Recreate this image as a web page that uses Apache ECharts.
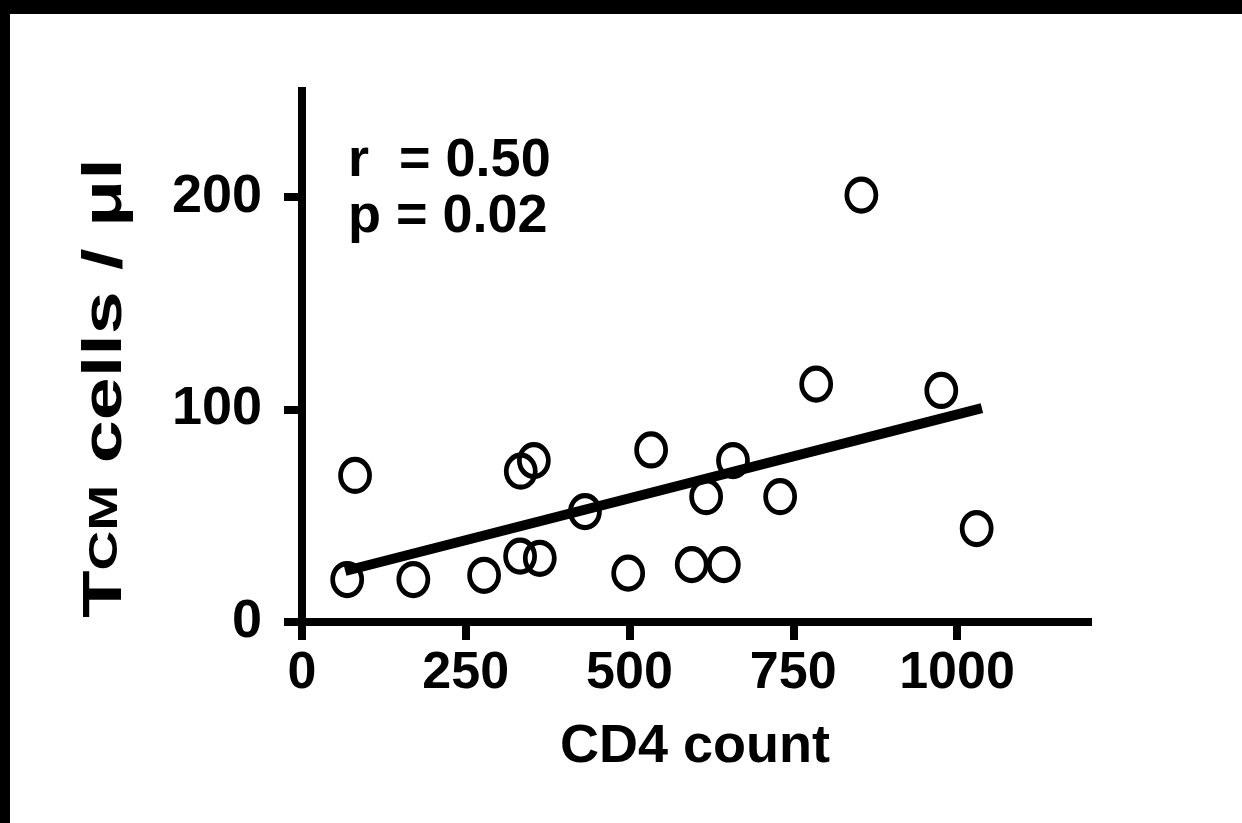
<!DOCTYPE html>
<html>
<head>
<meta charset="utf-8">
<script src="https://cdn.jsdelivr.net/npm/echarts@6/dist/echarts.min.js"></script>
<style>
  html, body { margin: 0; padding: 0; background: #fff; width: 1242px; height: 823px; overflow: hidden; }
  #topbar { position: absolute; left: 0; top: 0; width: 1242px; height: 14px; background: #000; }
  #leftbar { position: absolute; left: 0; top: 0; width: 10px; height: 823px; background: #000; }
  #chart { position: absolute; left: 10px; top: 14px; width: 1232px; height: 809px; background: #fff; }
</style>
</head>
<body>
<div id="chart"></div>
<div id="topbar"></div>
<div id="leftbar"></div>
<script>
// CD4 count vs TCM cells / ul
var cd4 = [69, 81, 170, 278, 334, 354, 333, 363, 432, 498, 533, 595, 617, 644, 658, 730, 785, 854, 976, 1030];
var tcm = [20, 69, 20, 22, 71, 76, 31, 30, 52, 23, 81, 27, 59, 27, 76, 59, 112, 201, 109, 44];
var fitX = [66, 1038];
var fitY = [24, 100.7];
var xTicks = [0, 250, 500, 750, 1000];
var yTicks = [0, 100, 200];
var statLines = ['r  = 0.50', 'p = 0.02'];

var FONT = '"Liberation Sans", Arial, Helvetica, sans-serif';

function initChart() {
    var chart = echarts.init(document.getElementById('chart'));
    var points = cd4.map(function (x, i) { return [x, tcm[i]]; });
    var fit = fitX.map(function (x, i) { return [x, fitY[i]]; });

    var option = {
        animation: false,
        grid: { left: 292, top: 77, width: 786, height: 531 },
        xAxis: {
            type: 'value',
            min: 0,
            max: 1200,
            name: 'CD4 count',
            nameLocation: 'middle',
            nameGap: 98,
            nameTextStyle: { color: '#000', fontFamily: FONT, fontWeight: 'bold', fontSize: 54 },
            axisLine: { lineStyle: { color: '#000', width: 8, cap: 'square' } },
            axisTick: { customValues: xTicks, length: 18, lineStyle: { color: '#000', width: 8 } },
            splitLine: { show: false },
            axisLabel: {
                customValues: xTicks,
                margin: 26,
                color: '#000',
                fontFamily: FONT,
                fontWeight: 'bold',
                fontSize: 52,
                formatter: function (v) { return String(v); }
            }
        },
        yAxis: {
            type: 'value',
            min: 0,
            max: 250,
            axisLine: { lineStyle: { color: '#000', width: 8, cap: 'square' } },
            axisTick: { customValues: yTicks, length: 18, lineStyle: { color: '#000', width: 8 } },
            splitLine: { show: false },
            axisLabel: {
                customValues: yTicks,
                margin: 40,
                color: '#000',
                fontFamily: FONT,
                fontWeight: 'bold',
                fontSize: 54,
                formatter: function (v) { return String(v); }
            }
        },
        graphic: [
            {
                type: 'text',
                left: 338,
                top: 119,
                style: {
                    text: statLines.join('\n'),
                    fill: '#000',
                    font: 'bold 54px ' + FONT,
                    lineHeight: 56
                }
            },
            {
                // y axis title, stretched along its length like the original
                type: 'text',
                x: 96,
                y: 374,
                rotation: Math.PI / 2,
                scaleX: 1.38,
                style: {
                    text: '{a|T}{b|CM}{a| cells / \u03bcl}',
                    align: 'center',
                    verticalAlign: 'middle',
                    rich: {
                        a: { fill: '#000', font: 'bold 56px ' + FONT },
                        b: { fill: '#000', font: 'bold 40px ' + FONT }
                    }
                }
            }
        ],
        series: [
            {
                type: 'line',
                data: fit,
                symbol: 'none',
                lineStyle: { color: '#000', width: 10 },
                z: 3
            },
            {
                type: 'scatter',
                data: points,
                symbol: 'circle',
                symbolSize: [29, 32],
                itemStyle: { color: 'rgba(255,255,255,0)', borderColor: '#000', borderWidth: 5, opacity: 1 },
                z: 4
            }
        ]
    };
    chart.setOption(option);
}
initChart();
</script>
</body>
</html>
